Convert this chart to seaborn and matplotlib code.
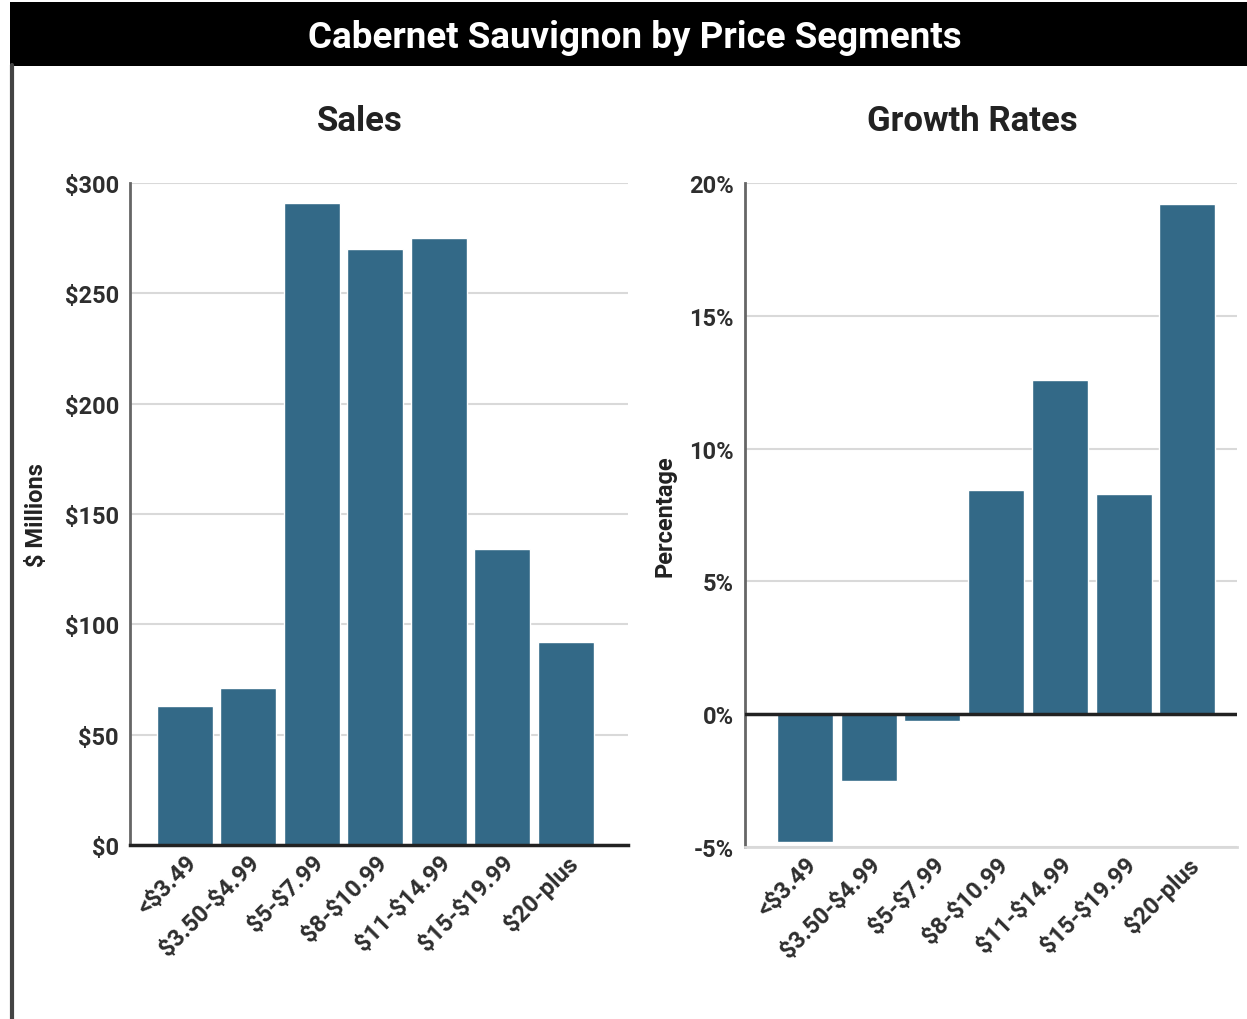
import numpy as np
import pandas as pd
import seaborn as sns
from matplotlib import pyplot as plt
from matplotlib.patches import Rectangle
from matplotlib.lines import Line2D
from matplotlib.ticker import FuncFormatter

segments = ["<$3.49", "$3.50-$4.99", "$5-$7.99", "$8-$10.99", "$11-$14.99", "$15-$19.99", "$20-plus"]
sales = [63, 71, 291, 270, 275, 134, 92]
growth = [-4.8, -2.5, -0.25, 8.45, 12.6, 8.3, 19.2]

BAR = "#336987"
GRID = "#d9d9d9"

sns.set_theme(style="white")
plt.rcParams["font.family"] = ["Roboto", "DejaVu Sans"]
plt.rcParams["font.weight"] = "bold"
plt.rcParams["text.parse_math"] = False

df = pd.DataFrame({"segment": segments, "sales": sales, "growth": growth})

fig = plt.figure(figsize=(12.47, 10.2), dpi=100)
ax1 = fig.add_axes([0.1043, 0.1706, 0.3993, 0.649])
ax2 = fig.add_axes([0.5974, 0.1686, 0.3946, 0.651])

# title bar + frame
fig.patches.append(Rectangle((0.008, 0.934), 0.992, 0.063, transform=fig.transFigure,
                             facecolor="black", edgecolor="none", zorder=0))
fig.lines.append(Line2D([0.0095, 0.0095], [0.0, 0.935], transform=fig.transFigure,
                        color="#444444", lw=3))
fig.text(0.509, 0.963, "Cabernet Sauvignon by Price Segments", color="white",
         ha="center", va="center", fontsize=26.5, fontweight="bold")


def style(ax, title, ylabel):
    ax.set_title(title, fontsize=25, fontweight="bold", color="#222222", pad=38, x=0.462)
    ax.set_xlabel("")
    ax.set_ylabel(ylabel, fontsize=17, fontweight="bold", color="#222222")
    ax.yaxis.grid(True, color=GRID, lw=1.5)
    ax.set_axisbelow(True)
    for s in ["top", "right"]:
        ax.spines[s].set_visible(False)
    ax.spines["left"].set_color("#666666")
    ax.spines["left"].set_linewidth(2)
    ax.tick_params(length=0, colors="#2e2e2e")
    ax.tick_params(axis="y", labelsize=17, pad=8)
    ax.tick_params(axis="x", labelsize=17, pad=4)
    for lab in ax.get_xticklabels():
        lab.set_rotation(45)
        lab.set_ha("right")
        lab.set_rotation_mode("anchor")


sns.barplot(df, x="segment", y="sales", color=BAR, saturation=1, width=0.88, ax=ax1)
ax1.set_ylim(0, 300)
ax1.set_xlim(-0.86, 6.98)
ax1.set_yticks(np.arange(0, 301, 50))
ax1.yaxis.set_major_formatter(FuncFormatter(lambda v, p: f"${v:.0f}"))
style(ax1, "Sales", "$ Millions")
ax1.spines["bottom"].set_color("#222222")
ax1.spines["bottom"].set_linewidth(2.5)
ax1.yaxis.set_label_coords(-0.165, 0.5)

sns.barplot(df, x="segment", y="growth", color=BAR, saturation=1, width=0.88, ax=ax2)
ax2.set_ylim(-5, 20)
ax2.set_xlim(-0.94, 6.78)
ax2.set_yticks(np.arange(-5, 21, 5))
ax2.yaxis.set_major_formatter(FuncFormatter(lambda v, p: f"{v:.0f}%"))
style(ax2, "Growth Rates", "Percentage")
ax2.axhline(0, color="#222222", lw=2.5, zorder=3)
ax2.spines["bottom"].set_color(GRID)
ax2.spines["bottom"].set_linewidth(2)
ax2.yaxis.set_label_coords(-0.14, 0.5)

fig.savefig("out.png", dpi=100)
